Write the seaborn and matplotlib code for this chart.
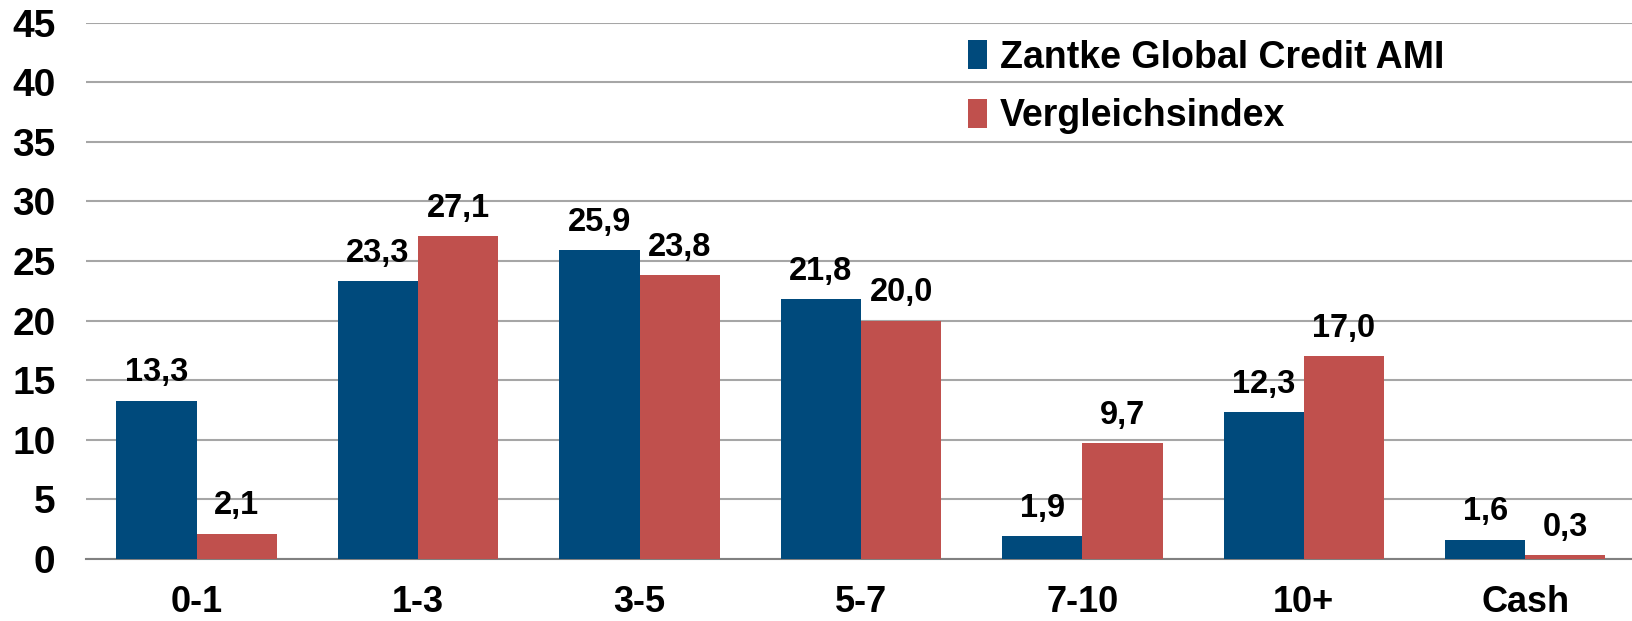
import matplotlib
matplotlib.use('Agg')
import matplotlib.pyplot as plt
import pandas as pd
import seaborn as sns

# Data
categories = ['0-1', '1-3', '3-5', '5-7', '7-10', '10+', 'Cash']
fund = [13.3, 23.3, 25.9, 21.8, 1.9, 12.3, 1.6]
index = [2.1, 27.1, 23.8, 20.0, 9.7, 17.0, 0.3]
series_names = ['Zantke Global Credit AMI', 'Vergleichsindex']
colors = ['#004a7c', '#c0504d']

df = pd.DataFrame({'cat': categories, series_names[0]: fund, series_names[1]: index})
df_long = pd.melt(df, id_vars=['cat'], value_vars=series_names, var_name='series', value_name='value')

sns.set_style('white')
plt.rcParams['font.family'] = ['Liberation Sans', 'DejaVu Sans']
plt.rcParams['font.weight'] = 'bold'
plt.rcParams['text.color'] = 'black'
plt.rcParams['xtick.color'] = 'black'
plt.rcParams['ytick.color'] = 'black'

fig = plt.figure(figsize=(16.32, 6.21), dpi=100)
ax = fig.add_axes([0.0527, 0.0998, 0.947, 0.8636])

sns.barplot(data=df_long, x='cat', y='value', hue='series', palette=colors,
            width=0.725, gap=0, saturation=1, linewidth=0, ax=ax, zorder=3)

for cont in ax.containers:
    labels = [f'{b.get_height():.1f}'.replace('.', ',') for b in cont]
    ax.bar_label(cont, labels=labels, padding=9, fontsize=23.5, fontweight='bold',
                 color='black')

ax.set_ylim(0, 45)
ax.set_yticks(range(0, 46, 5))
ax.set_xlim(-0.5, 6.48)
ax.yaxis.grid(True, color='#a6a6a6', linewidth=1.5, zorder=0)
ax.set_axisbelow(True)
ax.set_xlabel('')
ax.set_ylabel('')
for s in ['top', 'right', 'left']:
    ax.spines[s].set_visible(False)
ax.spines['bottom'].set_color('#808080')
ax.spines['bottom'].set_linewidth(1.5)
ax.tick_params(axis='y', labelsize=28, pad=22, length=0)
ax.tick_params(axis='x', labelsize=26, pad=19, length=0)
for t in ax.get_xticklabels() + ax.get_yticklabels():
    t.set_fontweight('bold')

ax.legend(frameon=False, loc='upper left', bbox_to_anchor=(0.556, 1.01),
          fontsize=27, handlelength=0.5, handleheight=0.8, handletextpad=0.35,
          labelspacing=0.6, borderaxespad=0.2)

fig.savefig('out.png', dpi=100)
